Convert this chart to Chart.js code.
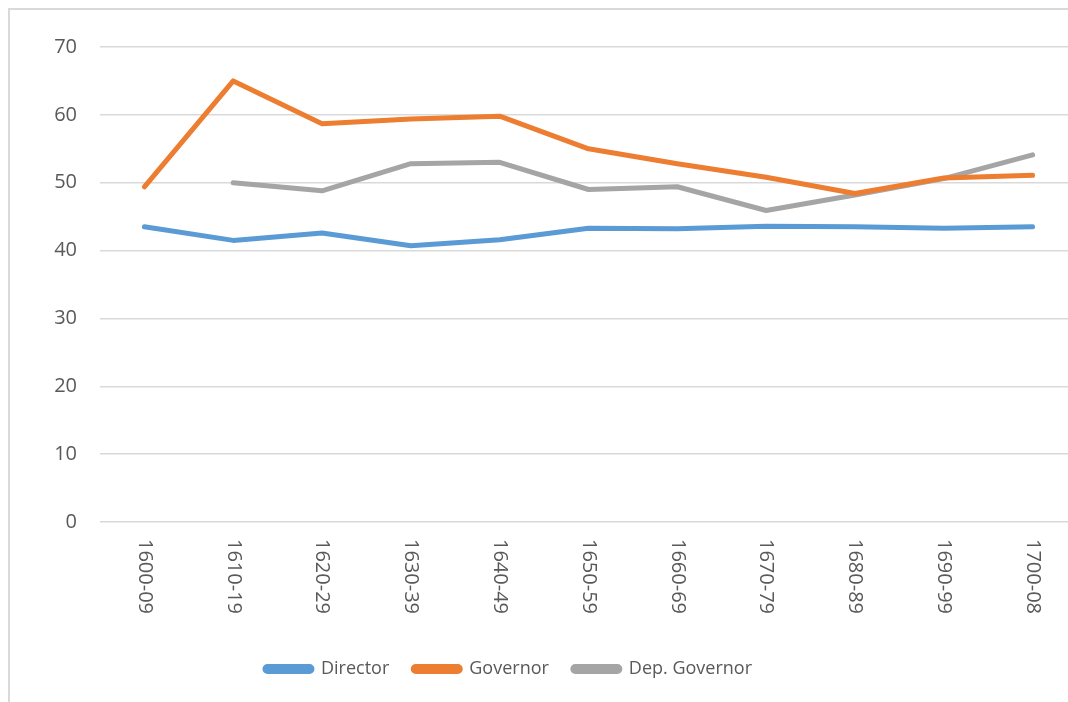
<!DOCTYPE html>
<html>
<head>
<meta charset="utf-8">
<script src="https://cdn.jsdelivr.net/npm/chart.js@4/dist/chart.umd.min.js"></script>
<style>
  html, body { margin: 0; padding: 0; background: #fff; overflow: hidden; }
  #frame {
    position: absolute; left: 8px; top: 8px; width: 1100px; height: 720px;
    border-left: 2px solid #d9d9d9; border-top: 2px solid #d9d9d9;
  }
  #wrap { position: absolute; left: 0; top: 0; width: 1080px; height: 702px; }
</style>
</head>
<body>
<div id="frame"></div>
<div id="wrap"><canvas id="ageChart"></canvas></div>
<script>
// Decades and average ages per office
const periods = ['1600-09', '1610-19', '1620-29', '1630-39', '1640-49', '1650-59',
                 '1660-69', '1670-79', '1680-89', '1690-99', '1700-08'];
const director = [43.5, 41.5, 42.6, 40.7, 41.6, 43.3, 43.2, 43.6, 43.5, 43.3, 43.5];
const governor = [49.4, 65.0, 58.7, 59.4, 59.8, 55.0, 52.8, 50.8, 48.4, 50.7, 51.1];
const depGovernor = [null, 50.0, 48.8, 52.8, 53.0, 49.0, 49.4, 45.9, 48.2, 50.6, 54.1];
const yTicks = [0, 10, 20, 30, 40, 50, 60, 70];

const textColor = '#595959';
const fontFamily = '"Open Sans", "Noto Sans", sans-serif';

// x labels run top-to-bottom, which Chart.js can't rotate to, so draw them here
const verticalLabels = {
    id: 'verticalLabels',
    afterLayout(chart) {
        // legend sits a little left of the canvas centre
        chart.legend.left -= 30;
        chart.legend.right -= 30;
    },
    afterDraw(chart) {
        const ctx = chart.ctx;
        const xs = chart.scales.x;
        ctx.save();
        ctx.fillStyle = textColor;
        ctx.font = '20px ' + fontFamily;
        ctx.textAlign = 'left';
        ctx.textBaseline = 'middle';
        periods.forEach((p, i) => {
            ctx.save();
            ctx.translate(xs.getPixelForTick(i), chart.chartArea.bottom + 17);
            ctx.rotate(Math.PI / 2);
            ctx.fillText(p, 0, 0);
            ctx.restore();
        });
        ctx.restore();
    }
};

function line(label, data, color) {
    return {
        label: label,
        data: data,
        borderColor: color,
        backgroundColor: color,
        borderWidth: 5,
        borderCapStyle: 'round',
        borderJoinStyle: 'round',
        pointRadius: 0,
        tension: 0,
        spanGaps: false
    };
}

const ctx = document.getElementById('ageChart').getContext('2d');
new Chart(ctx, {
    type: 'line',
    data: {
        labels: periods,
        datasets: [
            line('Director', director, '#5b9bd5'),
            line('Governor', governor, '#ed7d31'),
            line('Dep. Governor', depGovernor, '#a5a5a5')
        ]
    },
    options: {
        responsive: true,
        maintainAspectRatio: false,
        animation: false,
        layout: { padding: { left: 0, right: 3, top: 47, bottom: 14 } },
        plugins: {
            tooltip: { enabled: false },
            legend: {
                position: 'bottom',
                labels: {
                    color: textColor,
                    font: { family: fontFamily, size: 18 },
                    boxWidth: 47,
                    boxHeight: 5,
                    padding: 24,
                    useBorderRadius: true,
                    borderRadius: 2.5
                }
            }
        },
        scales: {
            x: {
                offset: true,
                grid: { display: false },
                border: { display: false },
                ticks: { display: false },
                afterFit(scale) { scale.height = 114; }
            },
            y: {
                min: 0,
                max: 70,
                afterBuildTicks(scale) { scale.ticks = yTicks.map(v => ({ value: v })); },
                afterFit(scale) { scale.width = 100; },
                grid: { color: '#d9d9d9', lineWidth: 1.5, drawTicks: false },
                border: { display: false },
                ticks: {
                    color: textColor,
                    padding: 23,
                    font: { family: fontFamily, size: 20 }
                }
            }
        }
    },
    plugins: [verticalLabels]
});
</script>
</body>
</html>
